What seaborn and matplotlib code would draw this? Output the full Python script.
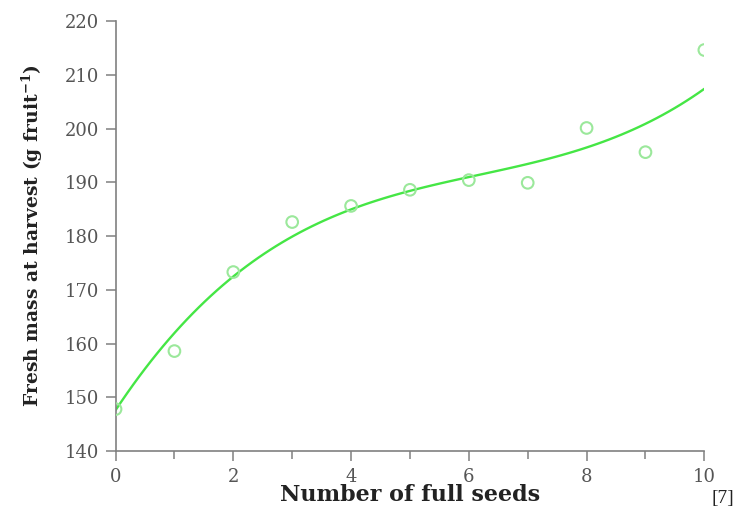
import matplotlib
matplotlib.use("Agg")
import matplotlib.pyplot as plt
import seaborn as sns
import numpy as np
import pandas as pd

seeds = [0, 1, 2, 3, 4, 5, 6, 7, 8, 9, 10]
fresh_mass = [147.8, 158.6, 173.3, 182.6, 185.6, 188.6, 190.4, 189.9, 200.1, 195.6, 214.6]
# fitted trend values
trend_mass = [148.2, 161.0, 172.2, 180.2, 185.6, 188.7, 190.6, 192.9, 196.6, 201.0, 207.4]
x_ticks = [0, 2, 4, 6, 8, 10]
y_ticks = [140, 150, 160, 170, 180, 190, 200, 210, 220]

df = pd.DataFrame({"seeds": seeds, "mass": fresh_mass, "trend": trend_mass})

sns.set_style("white")
plt.rcParams['font.family'] = ['DejaVu Serif', 'Liberation Serif']
plt.rcParams['mathtext.fontset'] = 'dejavuserif'

fig = plt.figure(figsize=(7.36, 5.12), dpi=100)
ax = fig.add_axes([0.157, 0.119, 0.800, 0.840])

sns.regplot(data=df, x="seeds", y="trend", order=3, ci=None, ax=ax, scatter=False,
            line_kws=dict(color="#45e645", lw=1.7))
sns.scatterplot(data=df, x="seeds", y="mass", ax=ax, s=70, facecolors="none",
                edgecolor="#9be89b", linewidth=1.5, zorder=3)

ax.set_xlim(0, 10)
ax.set_ylim(140, 220)
ax.set_xticks(x_ticks)
ax.set_xticks(seeds, minor=True)
ax.set_yticks(y_ticks)
for s in ["top", "right"]:
    ax.spines[s].set_visible(False)
for s in ["left", "bottom"]:
    ax.spines[s].set_color("#808080")
    ax.spines[s].set_linewidth(1.2)
ax.tick_params(axis="both", which="both", direction="out", color="#808080", width=1.1,
               labelsize=13, labelcolor="#555555")
ax.tick_params(axis="both", which="major", length=7, left=True, bottom=True, pad=5)
ax.tick_params(axis="x", which="minor", length=6, bottom=True)
ax.tick_params(axis="x", which="major", pad=5)
ax.set_xlabel("Number of full seeds", fontsize=16, fontweight="bold", color="#222222", labelpad=-1)
ax.set_ylabel("Fresh mass at harvest (g fruit$^{\\mathbf{-1}}$)", fontsize=13.5, fontweight="bold",
              color="#222222", labelpad=14)
for lab in ax.get_xticklabels() + ax.get_yticklabels():
    lab.set_clip_on(False)

fig.text(0.997, 0.01, "[7]", fontsize=14, ha="right", va="bottom", color="#222222",
         family=["Liberation Serif"])

fig.savefig("out.png", dpi=100, facecolor="white")
